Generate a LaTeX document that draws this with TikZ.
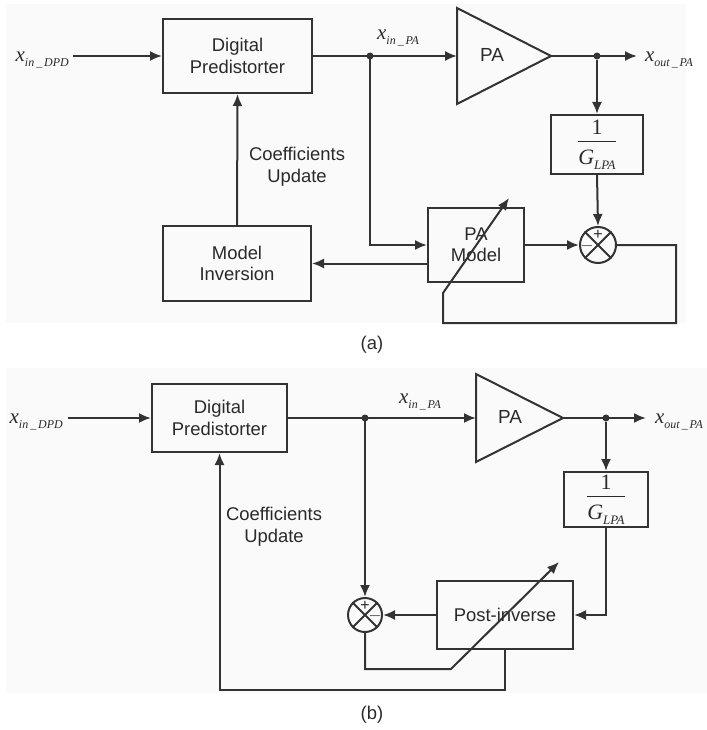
\documentclass[tikz,border=0pt]{standalone}
\usepackage{amsmath}
\usepackage{fontspec}
\setmainfont{Liberation Sans}
\newfontfamily\tnr{Liberation Serif}
\usetikzlibrary{arrows.meta}
\definecolor{lc}{HTML}{333333}
\definecolor{tc}{HTML}{2a2a2a}
\newcommand{\xsub}[1]{{\tnr\itshape\fontsize{21}{21}\selectfont x\raisebox{-0.5ex}{\fontsize{12}{12}\selectfont #1}}}
\newcommand{\gfrac}{$\genfrac{}{}{1.1bp}{0}{\mbox{\tnr\fontsize{22}{22}\selectfont 1\rule[-3bp]{0pt}{3bp}}}{\mbox{\tnr\fontsize{22}{22}\selectfont\rule{0pt}{19bp}\itshape G\raisebox{-0.5ex}{\fontsize{13}{13}\selectfont LPA}}}$}
\tikzset{
  every node/.style={text=tc},
  ln/.style={draw=lc, line width=2bp},
  arr/.style={ln, -{Latex[length=12bp,width=10bp]}},
  blk/.style={ln, rectangle, align=center, inner sep=0pt, font=\fontsize{18.5}{21.5}\selectfont},
  sumc/.style={ln, circle, inner sep=0pt},
  dot/.style={circle, fill=lc, inner sep=0pt, minimum size=7bp},
  sgn/.style={font=\fontsize{16}{16}\selectfont, inner sep=0pt},
  captext/.style={font=\fontsize{18.5}{22}\selectfont, align=center},
  panel/.style={fill=black!2, draw=none}
}
\begin{document}
\begin{tikzpicture}[x=1bp, y=-1bp]
\useasboundingbox (0,0) rectangle (707,730);
\fill[panel] (6,4) rectangle (686,323);
\fill[panel] (6,368) rectangle (707,693);

% ================= (a) =================
\node[blk, minimum width=149bp, minimum height=74bp] (dpA) at (237.5,56) {Digital\\Predistorter};
\node[blk, minimum width=148bp, minimum height=75bp] (miA) at (237,263.5) {Model\\Inversion};
\node[blk, minimum width=96bp, minimum height=74bp] (pmA) at (476,245) {PA\\Model};
\node[blk, minimum width=92bp, minimum height=59bp] (gA) at (597,144.5) {\gfrac};
\node[sumc, minimum size=36bp] (sumA) at (598,245) {};
\draw[ln] (sumA.north west) -- (sumA.south east) (sumA.north east) -- (sumA.south west);
\node[sgn] at (598,235) {+};
\node[sgn] at (587,246) {$-$};
% PA triangle
\coordinate (paAin) at (457,56);
\coordinate (paAout) at (551,56);
\draw[ln, line join=miter] (457,8) -- (paAout) -- (457,104) -- cycle;
\node[font=\fontsize{19}{22}\selectfont] (paA) at (492,55) {PA};
\node[dot] (jA1) at (370,56) {};
\node[dot] (jA2) at (597,56) {};
\node[anchor=east, inner sep=0pt] (xinA) at (69,60) {\xsub{in\,\_\,DPD}};
\node[anchor=west, inner sep=0pt] (xoutA) at (645,60) {\xsub{out\,\_\,PA}};
\node[inner sep=0pt] (xpaA) at (398,38) {\xsub{in\,\_\,PA}};
\coordinate (oA) at (637,56);
\draw[arr] (73,56) -- (dpA.west);
\draw[arr] (dpA.east) -- (paAin);
\draw[arr] (paAout) -- (oA);
\draw[arr] (jA2) -- (gA.north);
\draw[arr] (gA.south) -- (sumA.north);
\draw[arr] (jA1.center) |- (pmA.west);
\draw[arr] (pmA.east) -- (sumA.west);
\draw[arr] (pmA.west |- miA.east) -- (miA.east);
\draw[arr] (miA.north) -- (dpA.south);
\draw[arr] (sumA.east) -- (676,245) -- (676,323) -- (443,323) -- (443,293) -- (509,198);
\node[captext] (cuA) at (297,167) {Coefficients\\Update};
\node[captext] (labA) at (372,345) {(a)};

% ================= (b) =================
\node[blk, minimum width=135bp, minimum height=68bp] (dpB) at (219.5,418) {Digital\\Predistorter};
\node[blk, minimum width=136bp, minimum height=68bp] (piB) at (505,615) {Post-inverse};
\node[blk, minimum width=84bp, minimum height=55bp] (gB) at (606,499.5) {\gfrac};
\node[sumc, minimum size=34bp] (sumB) at (365,615) {};
\draw[ln] (sumB.north west) -- (sumB.south east) (sumB.north east) -- (sumB.south west);
\node[sgn] at (365,606) {+};
\node[sgn] at (375,616) {$-$};
\coordinate (paBin) at (476,418);
\coordinate (paBout) at (563,418);
\draw[ln, line join=miter] (476,374) -- (paBout) -- (476,462) -- cycle;
\node[font=\fontsize{19}{22}\selectfont] (paB) at (510,417) {PA};
\node[dot] (jB1) at (365,418) {};
\node[dot] (jB2) at (606,418) {};
\node[anchor=east, inner sep=0pt] (xinB) at (63,422) {\xsub{in\,\_\,DPD}};
\node[anchor=west, inner sep=0pt] (xoutB) at (655,422) {\xsub{out\,\_\,PA}};
\node[inner sep=0pt] (xpaB) at (420,402) {\xsub{in\,\_\,PA}};
\coordinate (oB) at (646,418);
\draw[arr] (68,418) -- (dpB.west);
\draw[arr] (dpB.east) -- (paBin);
\draw[arr] (paBout) -- (oB);
\draw[arr] (jB2) -- (gB.north);
\draw[arr] (gB.south) |- (piB.east);
\draw[arr] (piB.west) -- (sumB.east);
\draw[arr] (jB1.center) -- (sumB.north);
\draw[arr] (sumB.south) -- (365,669) -- (451,669) -- (559,562);
\draw[arr] (piB.south) -- (505,690) -| (dpB.south);
\node[captext] (cuB) at (274,527) {Coefficients\\Update};
\node[captext] (labB) at (372,715) {(b)};
\end{tikzpicture}
\end{document}
